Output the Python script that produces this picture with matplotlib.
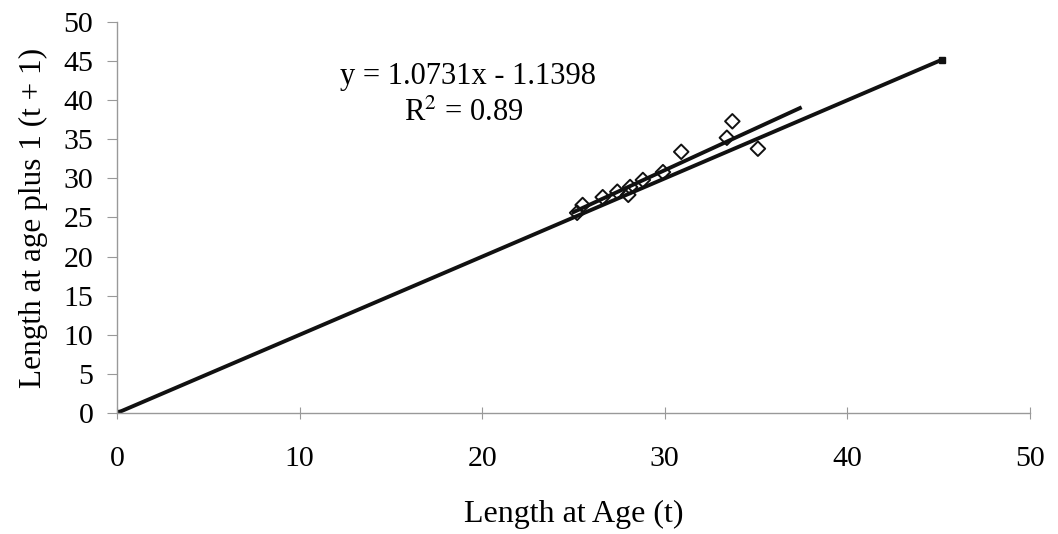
import numpy as np
import matplotlib.pyplot as plt

plt.rcParams['font.family'] = ['Liberation Serif', 'DejaVu Serif']
plt.rcParams['mathtext.fontset'] = 'stix'

# observed length pairs (t, t+1)
length_t = [25.2, 25.5, 26.6, 27.4, 28.0, 28.1, 28.8, 29.9, 30.9, 33.4, 33.7, 35.1]
length_t1 = [25.6, 26.6, 27.6, 28.3, 27.9, 28.9, 29.8, 30.8, 33.4, 35.2, 37.3, 33.8]

# 1:1 line endpoints
diag_x = [0, 45.2]
diag_y = [0, 45.2]

slope = 1.0731
intercept = -1.1398
fit_range = [25.0, 37.4]

fig, ax = plt.subplots(figsize=(10.58, 5.34), dpi=100)
fig.subplots_adjust(left=0.1106, right=0.9735, top=0.9588, bottom=0.2266)

ax.plot(diag_x, diag_y, color='#111111', lw=2.8, marker='s', markersize=4,
        solid_capstyle='butt', zorder=2)
fx = np.array(fit_range)
ax.plot(fx, slope * fx + intercept, color='#111111', lw=2.8, zorder=3)
ax.scatter(length_t, length_t1, marker='D', s=55, facecolors='none',
           edgecolors='#111111', linewidths=1.4, zorder=4)

ax.text(19.2, 43.0, 'y = 1.0731x - 1.1398', fontsize=22, ha='center', va='center')
ax.text(19.0, 38.3, 'R$^2$ = 0.89', fontsize=22, ha='center', va='center')

ax.set_xlim(0, 50)
ax.set_ylim(0, 50)
ax.set_xticks(np.arange(0, 51, 10))
ax.set_yticks(np.arange(0, 51, 5))
for s in ['top', 'right']:
    ax.spines[s].set_visible(False)
for s in ['left', 'bottom']:
    ax.spines[s].set_color('#999999')
    ax.spines[s].set_linewidth(1.0)
ax.tick_params(axis='x', direction='inout', length=8, color='#999999', labelsize=21.5, pad=20)
ax.tick_params(axis='y', direction='out', length=7, color='#999999', labelsize=21.5, pad=10)

ax.set_xlabel('Length at Age (t)', fontsize=23, labelpad=20)
ax.set_ylabel('Length at age plus 1 (t + 1)', fontsize=22.5, labelpad=11)

plt.savefig('out.png', dpi=100)
